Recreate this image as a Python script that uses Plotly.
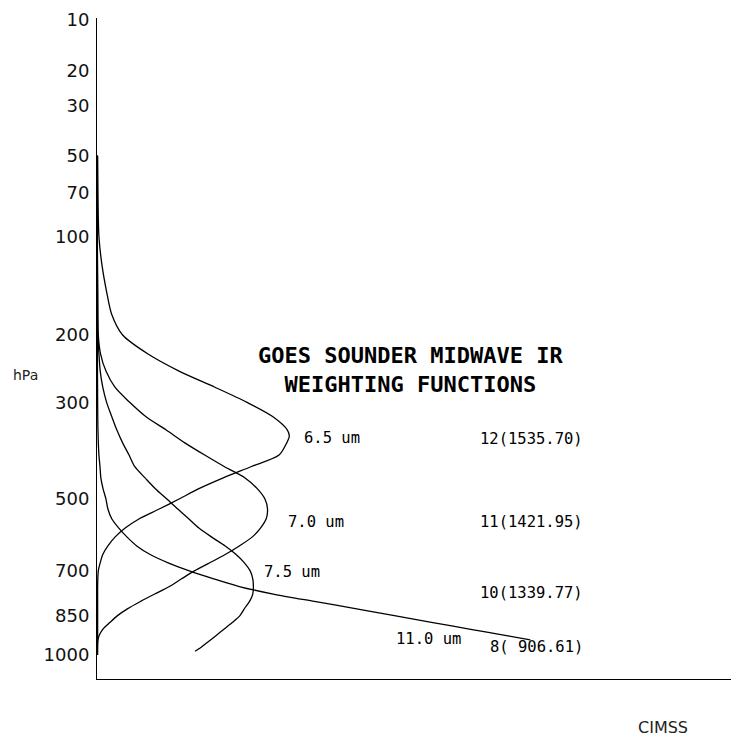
import plotly.graph_objects as go

KAPPA = 0.286  # pressure axis drawn in p**(R/cp)

# tick labels (hPa)
tick_p = [10, 20, 30, 50, 70, 100, 200, 300, 500, 700, 850, 1000]

# weighting functions (relative weight, pressure in hPa)
p_65 = [50, 70, 100, 125, 150, 175, 200, 225, 250, 275, 300, 325, 350, 362, 375, 400, 425, 450, 475,
        500, 525, 550, 575, 600, 625, 650, 675, 700, 750, 800, 850, 900, 950, 1000]
w_65 = [0.1, 0.15, 0.3, 0.8, 1.5, 2.3, 4.0, 7.9, 12.8, 18.4, 23.4, 27.4, 29.7, 30.0, 29.6, 28.4, 24.0, 19.7, 15.9,
        12.8, 9.7, 6.6, 4.4, 2.8, 1.7, 0.9, 0.5, 0.2, 0.1, 0.1, 0.1, 0.1, 0.1, 0.1]

p_70 = [50, 100, 150, 200, 225, 250, 275, 300, 325, 350, 375, 400, 425, 450, 475, 500, 525, 550, 575,
        600, 625, 650, 675, 700, 725, 750, 775, 800, 825, 850, 875, 900, 925, 950, 1000]
w_70 = [0.05, 0.05, 0.1, 0.2, 0.55, 1.4, 2.8, 5.1, 7.6, 10.8, 13.7, 16.8, 19.9, 23.1, 25.0, 26.2, 26.6, 26.4, 25.5,
        24.2, 22.2, 20.0, 17.6, 15.2, 13.2, 11.3, 9.0, 6.8, 4.8, 3.2, 2.0, 0.9, 0.3, 0.1, 0.05]

p_75 = [50, 100, 150, 200, 225, 250, 275, 300, 325, 350, 375, 400, 425, 450, 475, 500, 525, 550, 575,
        600, 625, 650, 675, 700, 725, 750, 775, 800, 825, 850, 875, 900, 925, 950, 975, 985]
w_75 = [0.05, 0.05, 0.1, 0.15, 0.3, 0.5, 0.9, 1.5, 2.3, 3.1, 4.0, 5.0, 5.9, 7.5, 9.1, 10.9, 12.6, 14.3, 15.9,
        17.9, 20.0, 21.7, 23.0, 23.9, 24.3, 24.4, 24.3, 23.8, 23.0, 22.3, 21.1, 19.8, 18.5, 17.2, 15.9, 15.3]

p_110 = [50, 100, 200, 300, 350, 400, 425, 450, 475, 500, 525, 550, 575, 600, 625, 650, 675, 700,
         725, 750, 775, 800, 825, 850, 875, 900, 925, 940]
w_110 = [0.05, 0.05, 0.05, 0.1, 0.15, 0.3, 0.47, 0.6, 0.94, 1.4, 1.7, 2.3, 3.4, 4.7, 6.2, 8.3, 11.1, 14.4,
         18.2, 22.2, 27.5, 33.9, 40.3, 46.4, 52.4, 58.3, 64.1, 67.6]

series = [(w_65, p_65), (w_70, p_70), (w_75, p_75), (w_110, p_110)]

curve_labels = ["6.5 um", "7.0 um", "7.5 um", "11.0 um"]
channel_labels = ["12(1535.70)", "11(1421.95)", "10(1339.77)", "8( 906.61)"]
title_text = "GOES SOUNDER MIDWAVE IR<br>WEIGHTING FUNCTIONS"


def tr(p):
    return p ** KAPPA


# the page body has an 8px margin: build the figure 8px smaller and shifted
OFF = 8
W, H = 739 - OFF, 738 - OFF
ML, MR, MT, MB = 97 - OFF, 1, 16 - OFF, 59
PW, PH = W - ML - MR, H - MT - MB
PIX_T = 0.0082875  # axis units per pixel
Y_TOP = tr(10) - 2 * PIX_T

fig = go.Figure()
for w, p in series:
    fig.add_trace(go.Scatter(x=w, y=[tr(v) for v in p], mode="lines",
                             line=dict(color="black", width=1.3, shape="spline", smoothing=0.8),
                             hoverinfo="skip", showlegend=False))


def px(x):
    return (x - OFF - ML) / PW


def py(y):
    return (H - MB - (y - OFF)) / PH


mono = "DejaVu Sans Mono"
ann = []
for txt, (x, y) in zip(curve_labels, [(302, 437), (286, 522), (262, 572), (394, 639)]):
    ann.append(dict(text=txt, x=px(x), y=py(y), xref="paper", yref="paper", xanchor="left", yanchor="middle",
                    showarrow=False, font=dict(family=mono, size=15.5, color="black")))
for txt, y in zip(channel_labels, [438, 522, 593, 647]):
    ann.append(dict(text=txt, x=px(585), y=py(y), xref="paper", yref="paper", xanchor="right", yanchor="middle",
                    showarrow=False, font=dict(family=mono, size=15.5, color="black")))
ann.append(dict(text=title_text, x=px(410), y=py(369), xref="paper", yref="paper", xanchor="center",
                yanchor="middle", showarrow=False, align="center",
                font=dict(family=mono, size=22, color="black", weight="bold")))
ann.append(dict(text="hPa", x=px(11), y=py(374), xref="paper", yref="paper", xanchor="left", yanchor="middle",
                showarrow=False, font=dict(family="DejaVu Sans", size=14, color="#222")))
ann.append(dict(text="CIMSS", x=px(663), y=py(728), xref="paper", yref="paper", xanchor="center",
                yanchor="middle", showarrow=False, font=dict(family="DejaVu Sans", size=16, color="#222")))

fig.update_layout(
    width=W, height=H, margin=dict(l=ML, r=MR, t=MT, b=MB, pad=0),
    paper_bgcolor="white", plot_bgcolor="white",
    xaxis=dict(range=[0, 100], showline=True, linecolor="black", linewidth=1, showgrid=False,
               zeroline=False, showticklabels=False, ticks=""),
    yaxis=dict(range=[tr(1100), Y_TOP], showline=True, linecolor="black", linewidth=1, showgrid=False,
               zeroline=False, ticks="", tickvals=[tr(v) for v in tick_p], ticktext=[str(v) for v in tick_p],
               ticklabelstandoff=3, ticklabeloverflow="allow",
               tickfont=dict(family="DejaVu Sans", size=18, color="#111")),
    annotations=ann,
)

fig.write_html("out.html")
